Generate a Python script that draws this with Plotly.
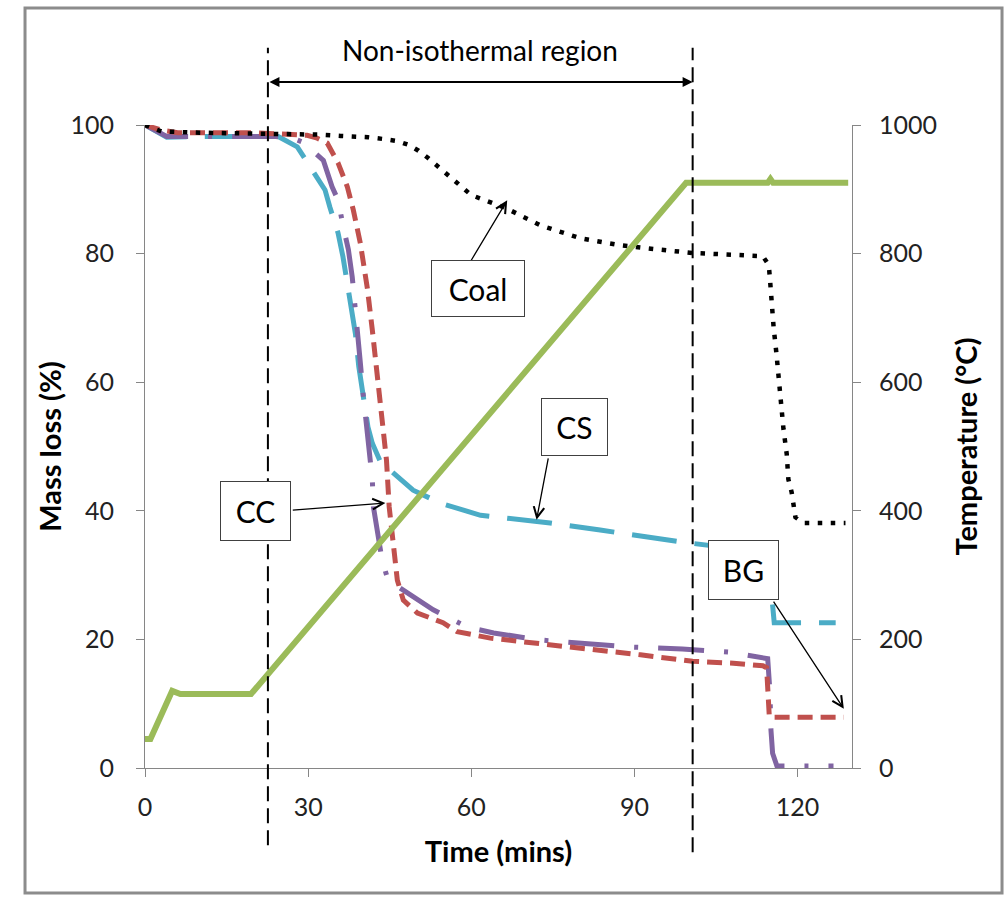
import plotly.graph_objects as go

# ---------------- data ----------------
temp_t = [0, 1, 5, 6.5, 19.5, 99.5, 114.5, 115, 115.5, 129.3]
temp_c = [45, 45, 120, 115, 115, 910, 910, 916, 910, 910]

coal_t = [0, 3, 10, 25, 32, 36, 41, 44, 46.4, 48.5, 50.3, 52, 56, 60, 66.3, 72.7, 80, 87.4, 94.8,
          100.7, 113.6, 114.7, 114.9, 115.2, 115.6, 116.1, 116.5, 117.1, 117.4, 118.0, 118.3, 118.9,
          119.3, 119.6, 121.1, 128.8]
coal_m = [100, 99.0, 98.8, 98.7, 98.5, 98.3, 98.1, 97.8, 97.5, 96.9, 96.0, 94.9, 92.0, 89.1, 87.1, 84.4,
          82.4, 81.3, 80.6, 80.1, 79.6, 78.2, 76.2, 72.3, 68.4, 64.5, 60.7, 56.8, 52.7, 48.8, 44.9, 42.9,
          41.0, 39.0, 38.1, 38.1]

bg_t = [0, 3, 6, 20, 29.8, 31.5, 33.5, 35.5, 37.2, 38.3, 39.6, 40.9, 41.8, 42.7, 43.6, 44.4, 44.9, 45.6,
        46.4, 47.5, 50.1, 54.8, 57.4, 63.5, 72.7, 81.4, 91.1, 100.7, 108.2, 113.6, 114.3, 114.8, 128.5]
bg_m = [100, 99.2, 98.8, 98.8, 98.4, 98.0, 97.2, 94.1, 90.4, 86.8, 81.6, 74.5, 68.1, 61.4, 54.6, 47.9,
        40.6, 34.4, 29.2, 26.1, 24.1, 22.6, 21.2, 20.2, 19.4, 18.5, 17.6, 16.6, 16.3, 15.9, 15.6, 7.9, 7.9]

cc_t = [0, 2, 4, 24, 27, 29.1, 32.8, 34.4, 35.5, 36.4, 37.4, 38.1, 38.5, 39.0, 39.6, 40.1, 41.0, 41.8,
        42.0, 42.7, 43.6, 44.7, 48.2, 53.0, 59.3, 64.1, 72.7, 81.4, 89.8, 98.8, 107.7, 114.5, 114.9,
        115.1, 115.4, 116.2, 126.6]
cc_m = [100, 99.0, 98.2, 98.2, 98.0, 97.3, 94.5, 90.4, 88.3, 84.4, 80.6, 76.4, 73.0, 69.7, 63.0, 58.3,
        51.0, 44.8, 40.6, 36.5, 32.3, 29.2, 27.2, 24.6, 21.9, 21.0, 19.9, 19.4, 18.8, 18.5, 18.0, 17.0,
        12.0, 5.9, 2.3, 0.3, 0.3]

cs_t = [0, 3.3, 4.0, 10, 24.5, 28.0, 30.4, 33.1, 34.0, 35.5, 36.4, 37.7, 38.7, 39.3, 40.1, 41.0, 41.8,
        43.3, 49.3, 54.3, 61.7, 66.6, 74.5, 83.7, 93.0, 100.0, 114.5, 115.2, 115.7, 127.0]
cs_m = [100, 98.4, 98.1, 98.2, 98.2, 96.6, 93.5, 89.9, 87.2, 83.2, 79.5, 72.5, 67.5, 62.5, 57.5, 53.0,
        50.5, 47.6, 43.2, 41.2, 39.3, 38.9, 38.1, 37.0, 35.8, 35.0, 33.5, 26.0, 22.6, 22.6]

x_ticks = [0, 30, 60, 90, 120]
region_start, region_end = 22.6, 100.7

FONT = "Lato, 'Open Sans', sans-serif"

fig = go.Figure()
fig.add_trace(go.Scatter(x=temp_t, y=temp_c, yaxis="y2", mode="lines",
                         line=dict(color="#9BBB59", width=6), name="Temperature"))
fig.add_trace(go.Scatter(x=cs_t, y=cs_m, mode="lines",
                         line=dict(color="#4BACC6", width=5, dash="45px,18px"), name="CS"))
fig.add_trace(go.Scatter(x=cc_t, y=cc_m, mode="lines",
                         line=dict(color="#8064A2", width=5, dash="46px,20px,4px,20px"), name="CC"))
fig.add_trace(go.Scatter(x=bg_t, y=bg_m, mode="lines",
                         line=dict(color="#C0504D", width=5, dash="15px,8px"), name="BG"))
fig.add_trace(go.Scatter(x=coal_t, y=coal_m, mode="lines",
                         line=dict(color="#000000", width=4.5, dash="4.5px,8.5px"), name="Coal"))

axis_common = dict(showgrid=False, zeroline=False, showline=True, linecolor="#868686", linewidth=1,
                   ticks="outside", ticklen=8, tickcolor="#868686",
                   tickfont=dict(family=FONT, size=25, color="#222222"))
TITLE_FONT = dict(family=FONT, size=29, color="#000000")

fig.update_layout(
    width=1005, height=899, autosize=False,
    margin=dict(l=145, r=153, t=125, b=131),
    paper_bgcolor="white", plot_bgcolor="white",
    showlegend=False,
    font=dict(family=FONT, color="#000000"),
    xaxis=dict(range=[0, 130], tickvals=x_ticks, ticklabelstandoff=9, **axis_common,
               title=dict(text="<b>Time (mins)</b>", font=TITLE_FONT, standoff=21)),
    yaxis=dict(range=[0, 100], dtick=20, ticklabelstandoff=17, **axis_common,
               title=dict(text="<b>Mass loss (%)</b>", font=TITLE_FONT, standoff=0)),
    yaxis2=dict(range=[0, 1000], dtick=200, overlaying="y", side="right", ticklabelstandoff=13,
                **axis_common,
                title=dict(text="<b>Temperature (°C)</b>", font=TITLE_FONT, standoff=20)),
)

# outer frame
fig.add_shape(type="rect", xref="paper", yref="paper", x0=-0.1697, x1=1.2122, y0=-0.1944, y1=1.182,
              line=dict(color="#8c8c8c", width=3), layer="below")
# region boundaries
for xv, y0 in [(region_start, -0.12), (region_end, -0.131)]:
    fig.add_shape(type="line", xref="x", yref="paper", x0=xv, x1=xv, y0=y0, y1=1.12,
                  line=dict(color="black", width=2, dash="15px,7px"), layer="above")

# double arrow
fig.add_annotation(x=region_end, y=1.067, xref="x", yref="paper", ax=region_start, ay=0,
                   axref="x", ayref="pixel", text="", showarrow=True, arrowside="end+start",
                   arrowhead=2, startarrowhead=2, arrowsize=1, startarrowsize=1, arrowwidth=2,
                   arrowcolor="black")
fig.add_annotation(x=(region_start + region_end) / 2, y=1.146, xref="x", yref="paper",
                   text="Non-isothermal region", showarrow=False,
                   font=dict(family=FONT, size=28, color="black"))

# label arrows (head, tail)
arrows = [
    (66.6, 88.3, 59.8, 78.7),   # Coal
    (72.0, 38.6, 74.2, 48.4),   # CS
    (44.2, 41.2, 26.9, 40.1),   # CC
    (128.5, 9.2, 115.4, 26.1),  # BG
]
for hx, hy, tx, ty in arrows:
    fig.add_annotation(x=hx, y=hy, ax=tx, ay=ty, xref="x", yref="y", axref="x", ayref="y",
                       text="", showarrow=True, arrowhead=5, arrowsize=1.6, arrowwidth=1.3,
                       arrowcolor="black")

# label boxes
boxes = [("Coal", 61.3, 74.5, 88, 51), ("CS", 78.9, 53.0, 61, 52), ("CC", 20.4, 40.0, 65, 54),
         ("BG", 110.1, 30.8, 65, 54)]
for txt, bx, by, w, h in boxes:
    fig.add_annotation(x=bx, y=by, xref="x", yref="y", text=txt, showarrow=False,
                       width=w, height=h, borderpad=2, bgcolor="white", bordercolor="#404040",
                       borderwidth=1, font=dict(family=FONT, size=30, color="black"))

fig.write_html("out.html", config={"displayModeBar": False},
               post_script="document.body.style.margin='0px';")
